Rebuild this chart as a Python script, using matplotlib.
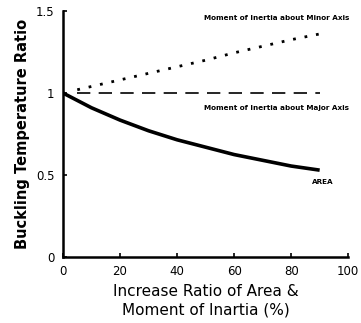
import matplotlib.pyplot as plt

# values
x_area = [0, 10, 20, 30, 40, 50, 60, 70, 80, 90]
y_area = [1.0, 0.91, 0.835, 0.77, 0.715, 0.67, 0.625, 0.59, 0.555, 0.53]

x_minor = [5, 10, 20, 30, 40, 50, 60, 70, 80, 90]
y_minor = [1.02, 1.04, 1.08, 1.12, 1.16, 1.2, 1.245, 1.285, 1.325, 1.36]

x_major = [5, 90]
y_major = [1.0, 1.0]

x_ticks = [0, 20, 40, 60, 80, 100]
y_ticks = [0, 0.5, 1, 1.5]
y_tick_labels = ["0", "0.5", "1", "1.5"]

fig = plt.figure(figsize=(3.61, 3.23), dpi=100)
ax = fig.add_axes([0.1745, 0.204, 0.79, 0.762])

ax.plot(x_area, y_area, color="black", lw=2.6, solid_capstyle="butt")
ax.plot(x_minor, y_minor, color="black", lw=2.0, linestyle=(0, (1, 3.2)))
ax.plot(x_major, y_major, color="black", lw=1.2, linestyle=(0, (8, 5)))

ax.text(75, 1.46, "Moment of Inertia about Minor Axis", fontsize=5.2,
        ha="center", va="center", fontweight="bold")
ax.text(75, 0.91, "Moment of Inertia about Major Axis", fontsize=5.2,
        ha="center", va="center", fontweight="bold")
ax.text(91, 0.46, "AREA", fontsize=5.2, ha="center", va="center",
        fontweight="bold")

ax.set_xlim(0, 100)
ax.set_ylim(0, 1.5)
ax.set_xticks(x_ticks)
ax.set_yticks(y_ticks)
ax.set_yticklabels(y_tick_labels)
ax.tick_params(direction="in", length=3, width=1.2, labelsize=8.5, pad=6)

for side in ["top", "right"]:
    ax.spines[side].set_visible(False)
for side in ["left", "bottom"]:
    ax.spines[side].set_linewidth(1.8)

ax.set_xlabel("Increase Ratio of Area &\nMoment of Inartia (%)", fontsize=11,
              linespacing=1.3)
ax.set_ylabel("Buckling Temperature Ratio", fontsize=10.5, fontweight="bold",
              labelpad=4)

fig.savefig("out.png", dpi=100)
